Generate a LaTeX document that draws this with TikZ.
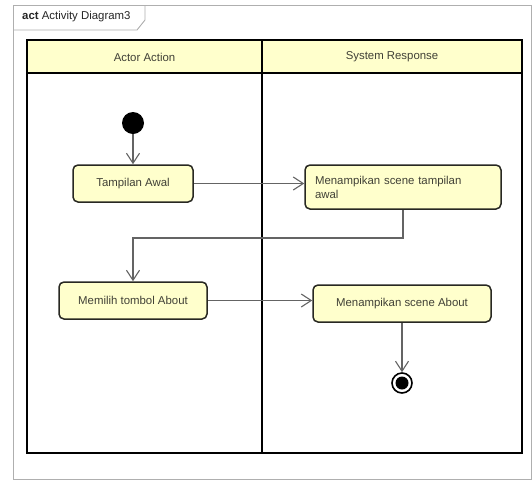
\documentclass[tikz,border=0pt]{standalone}
\usepackage{fontspec}
\setmainfont{Liberation Sans}
\usetikzlibrary{arrows.meta}
\definecolor{actfill}{RGB}{255,255,204}
\definecolor{actline}{RGB}{40,40,34}
\definecolor{acttext}{RGB}{64,64,54}
\definecolor{flowline}{RGB}{100,100,100}
\definecolor{framegray}{RGB}{175,175,175}
\tikzset{
  action/.style={draw=actline, line width=1.5pt, fill=actfill, rounded corners=5pt,
    font=\fontsize{11.4}{14}\selectfont, text=acttext, inner sep=0pt},
  flow/.style={draw=flowline, line width=1.1pt,
    -{Straight Barb[length=10pt,width=13pt,line width=1.1pt]}},
  lanehead/.style={draw=black, line width=1.5pt, fill=actfill},
  lanebody/.style={draw=black, line width=1.7pt},
  lanetitle/.style={font=\fontsize{11.4}{13}\selectfont, text=acttext},
}
\begin{document}
\begin{tikzpicture}[x=1pt, y=-1pt]
  \useasboundingbox (0,0) rectangle (532,480);
  \fill[white] (0,0) rectangle (532,480);

  % diagram frame with its name tab
  \draw[framegray, line width=0.9pt] (13,479) -- (13,5) -- (531,5) -- (531,479) -- cycle;
  \draw[framegray, line width=0.9pt] (13,30) -- (137,30) -- (145,20) -- (145,5);
  \node[anchor=west, inner sep=0pt, font=\fontsize{11.4}{13}\selectfont, text=black!85]
    (frametitle) at (22,17) {\textbf{act} Activity Diagram3};

  % swimlanes
  \draw[lanebody] (27,73) rectangle (262,453);
  \draw[lanebody] (262,73) rectangle (522,453);
  \draw[lanehead] (27,40) rectangle (262,73);
  \draw[lanehead] (262,40) rectangle (522,73);
  \node[lanetitle] (laneA) at (144.5,57) {Actor Action};
  \node[lanetitle] (laneB) at (392,57) {System Response};

  % initial node
  \node[circle, fill=black, minimum size=22pt, inner sep=0pt] (start) at (133,123) {};

  % actions
  \node[action, minimum width=120pt, minimum height=37pt] (awal) at (133,183.5) {Tampilan Awal};
  \node[action, minimum width=196pt, minimum height=44pt, text width=176pt, align=left]
    (sceneawal) at (403,187) {Menampikan scene tampilan\\awal};
  \node[action, minimum width=148pt, minimum height=37pt] (about) at (133,300.5) {Memilih tombol About};
  \node[action, minimum width=178pt, minimum height=37pt] (sceneabout) at (402,303.5) {Menampikan scene About};

  % final node
  \node[circle, draw=black, line width=1.6pt, fill=white, minimum size=20pt, inner sep=0pt] (final) at (402,383) {};
  \fill[black] (final.center) circle (6.5pt);

  % control flows
  \coordinate (elbow) at (133,238);
  \draw[flow] (start) -- (awal);
  \draw[flow] (awal.east) -- (awal.east -| sceneawal.west);
  \draw[flow] (sceneawal.south) |- (elbow) -- (about.north);
  \draw[flow] (about.east) -- (about.east -| sceneabout.west);
  \draw[flow] (sceneabout) -- (final);
\end{tikzpicture}
\end{document}
